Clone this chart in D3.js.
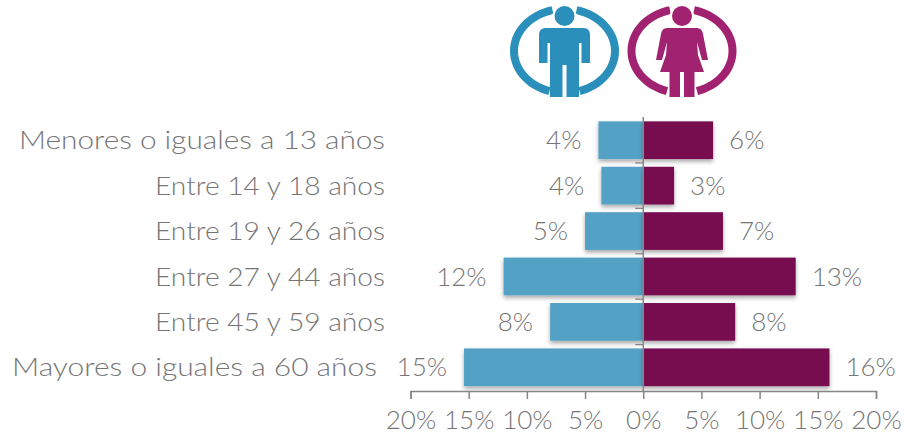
<!DOCTYPE html>
<html><head><meta charset="utf-8">
<script src="https://cdn.jsdelivr.net/npm/d3@7"></script>
<style>html,body{margin:0;padding:0;background:#fff}svg{display:block}text{font-family:"Lato",sans-serif;font-weight:300;fill:#757575}</style>
</head><body><svg id="c" width="907" height="439"></svg>
<script>
const categories=["Menores o iguales a 13 años","Entre 14 y 18 años","Entre 19 y 26 años","Entre 27 y 44 años","Entre 45 y 59 años","Mayores o iguales a 60 años"];
const men=[3.85,3.6,5,12,8,15.4];
const women=[6,2.65,6.85,13.1,7.9,16];
const menLabels=["4%","4%","5%","12%","8%","15%"];
const womenLabels=["6%","3%","7%","13%","8%","16%"];
const ticks=[-20,-15,-10,-5,0,5,10,15,20];
const labelRight=[385,385,385,385,385,377];
const labelWidth=[366,230,230,230,230,365];
const svg=d3.select("#c");
const defs=svg.append("defs");
const f=defs.append("filter").attr("id","sh").attr("x","-10%").attr("y","-20%").attr("width","120%").attr("height","150%");
f.append("feDropShadow").attr("dx",0).attr("dy",2.5).attr("stdDeviation",2).attr("flood-color","#000").attr("flood-opacity",0.35);
defs.append("filter").attr("id","bl").append("feGaussianBlur").attr("stdDeviation",0.6);
const x=d3.scaleLinear().domain([-20,20]).range([410.5,876]);
const y=d3.scaleBand().domain(categories).range([117.5,390]).paddingInner(0.17).paddingOuter(0.085);
const fs=26;
const axisY=391;
svg.append("g").selectAll("rect").data(categories).join("rect")
 .attr("x",(d,i)=>x(-men[i])).attr("y",d=>y(d)).attr("height",y.bandwidth())
 .attr("width",(d,i)=>x(0)-x(-men[i])).attr("fill","#52a1c5").attr("filter","url(#sh)");
svg.append("g").selectAll("rect").data(categories).join("rect")
 .attr("x",x(0)).attr("y",d=>y(d)).attr("height",y.bandwidth())
 .attr("width",(d,i)=>x(women[i])-x(0)).attr("fill","#770c50").attr("filter","url(#sh)");
svg.append("line").attr("x1",x(0)).attr("x2",x(0)).attr("y1",117).attr("y2",axisY).attr("stroke","#868686").attr("stroke-width",1.5);
svg.append("g").selectAll("line").data(categories.slice(1)).join("line")
 .attr("x1",x(0)-8).attr("x2",x(0)).attr("y1",d=>y(d)-y.step()*0.085).attr("y2",d=>y(d)-y.step()*0.085)
 .attr("stroke","#868686").attr("stroke-width",1.3);
const gx=svg.append("g").attr("transform",`translate(0,${axisY})`)
 .call(d3.axisBottom(x).tickValues(ticks).tickSize(8).tickPadding(12).tickFormat(d=>Math.abs(d)+"%"));
gx.selectAll("path,line").attr("stroke","#868686").attr("stroke-width",1.5);
gx.selectAll("text").attr("font-size",fs).attr("fill","#757575").style("font-family","Lato").attr("font-weight",300);
svg.append("g").selectAll("text").data(categories).join("text")
 .attr("x",(d,i)=>labelRight[i]).attr("y",d=>y(d)+y.bandwidth()/2).attr("dy","0.35em").attr("text-anchor","end").attr("font-size",fs)
 .attr("textLength",(d,i)=>labelWidth[i]).attr("lengthAdjust","spacingAndGlyphs").text(d=>d);
svg.append("g").selectAll("text").data(categories).join("text")
 .attr("x",(d,i)=>x(-men[i])-17).attr("y",d=>y(d)+y.bandwidth()/2).attr("dy","0.35em").attr("text-anchor","end").attr("font-size",fs).text((d,i)=>menLabels[i]);
svg.append("g").selectAll("text").data(categories).join("text")
 .attr("x",(d,i)=>x(women[i])+16).attr("y",d=>y(d)+y.bandwidth()/2).attr("dy","0.35em").attr("font-size",fs).text((d,i)=>womenLabels[i]);
function ring(g,c){
 const seg=(a0,a1)=>d3.range(41).map(i=>{const a=a0+(a1-a0)*i/40;return [50.5*Math.sin(a),-42*Math.cos(a)];});
 const l=d3.line();
 g.append("path").attr("d",l(seg(0.24,2.84))).attr("fill","none").attr("stroke",c).attr("stroke-width",8);
 g.append("path").attr("d",l(seg(-0.24,-2.84))).attr("fill","none").attr("stroke",c).attr("stroke-width",8);
}
const m=svg.append("g").attr("transform","translate(564.5,51)").attr("filter","url(#bl)");
ring(m,"#2a8fbb");
m.append("circle").attr("cy",-35).attr("r",11).attr("fill","#2a8fbb").attr("stroke","#fff").attr("stroke-width",2);
m.append("path").attr("fill","#2a8fbb").attr("d","M-19,-23 H19 Q25.5,-23 25.5,-16 V12 H17 V-8 H14.5 V46 H2 V14 H-2 V46 H-14.5 V-8 H-17 V12 H-25.5 V-16 Q-25.5,-23 -19,-23Z");
const w=svg.append("g").attr("transform","translate(682,51)").attr("filter","url(#bl)");
ring(w,"#a0226f");
w.append("circle").attr("cy",-35).attr("r",11).attr("fill","#a0226f").attr("stroke","#fff").attr("stroke-width",2);
w.append("path").attr("fill","#a0226f").attr("d","M-15,-23 H15 Q20,-23 21,-17 L26,9 H20 L15,-9 L16,4 L22,21 H12.5 V46 H2 V21 H-2 V46 H-12.5 V21 H-22 L-16,4 L-15,-9 L-20,9 H-26 L-21,-17 Q-20,-23 -15,-23Z");
</script></body></html>
